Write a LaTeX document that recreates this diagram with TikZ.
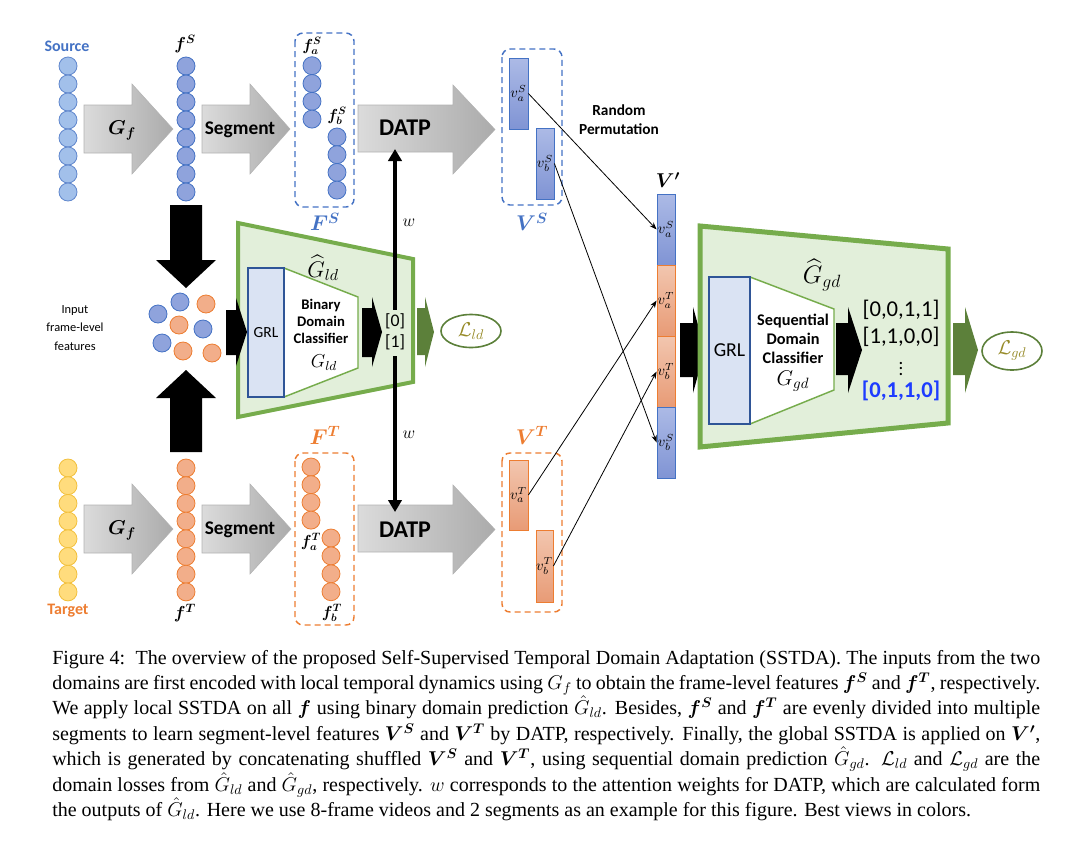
\RequirePackage{fix-cm}
\documentclass[tikz,border=0pt]{standalone}
\usepackage{amsmath,amssymb,bm}
\usepackage{fontspec}
\setmainfont{Carlito}
\newfontfamily\capfont{Liberation Serif}
\usetikzlibrary{arrows.meta,shapes.geometric}

\definecolor{srcblue}{RGB}{68,114,196}
\definecolor{srcfill}{RGB}{162,192,234}
\definecolor{fsfill}{RGB}{143,163,220}
\definecolor{tgtorange}{RGB}{237,125,49}
\definecolor{tgtfill}{RGB}{255,220,125}
\definecolor{tgtline}{RGB}{242,192,60}
\definecolor{ftfill}{RGB}{242,174,138}
\definecolor{lgreen}{RGB}{226,239,218}
\definecolor{mgreen}{RGB}{118,172,76}
\definecolor{dgreen}{RGB}{92,128,58}
\definecolor{grlfill}{RGB}{218,227,243}
\definecolor{grlline}{RGB}{47,85,151}
\definecolor{lossc}{RGB}{150,138,40}
\definecolor{seqblue}{RGB}{30,60,255}
\definecolor{barSa}{RGB}{172,186,230}
\definecolor{barSb}{RGB}{128,148,212}
\definecolor{barTa}{RGB}{242,198,175}
\definecolor{barTb}{RGB}{232,155,118}

\newcommand\blkarrow[8]{%
  \path[#1] (#2,#5) -- (#3,#5) -- (#3,#7) -- (#4,{(#7+#8)/2}) -- (#3,#8) -- (#3,#6) -- (#2,#6) -- cycle;}
\newcommand\capln[1]{\hbox to 741pt{#1}}

\tikzset{
  srccirc/.style={circle, draw=srcblue!85, fill=srcfill, minimum size=13.5pt, line width=0.6pt},
  fscirc/.style={circle, draw=srcblue, fill=fsfill, minimum size=13.5pt, line width=0.6pt},
  tgtcirc/.style={circle, draw=tgtline, fill=tgtfill, minimum size=13.5pt, line width=0.6pt},
  ftcirc/.style={circle, draw=tgtorange, fill=ftfill, minimum size=13.5pt, line width=0.6pt},
  dboxS/.style={draw=srcblue, dash pattern=on 4.5pt off 3pt, line width=1.1pt, rounded corners=6pt},
  dboxT/.style={draw=tgtorange, dash pattern=on 4.5pt off 3pt, line width=1.1pt, rounded corners=6pt},
  garrow/.style={left color=black!14, right color=black!33, draw=black!30, line width=0.4pt},
  blk/.style={fill=black},
  grn/.style={fill=dgreen},
  barS/.style={draw=srcblue, line width=0.6pt, top color=barSa, bottom color=barSb},
  barT/.style={draw=tgtorange, line width=0.6pt, top color=barTa, bottom color=barTb},
  thinarrow/.style={line width=0.6pt, -{Stealth[length=5.5pt,width=4pt]}},
  warrow/.style={line width=3pt, -{Triangle[length=9pt,width=10pt]}},
  trap/.style={draw=mgreen, fill=lgreen},
  clsf/.style={draw=mgreen, fill=white, line width=1.1pt},
  grl/.style={draw=grlline, fill=grlfill, line width=0.9pt},
  lossell/.style={ellipse, draw=dgreen, line width=1.2pt, text=lossc},
}

\begin{document}
\begin{tikzpicture}[x=0.75pt,y=-0.75pt, every node/.style={inner sep=0pt}]
\useasboundingbox (0,0) rectangle (1071,850);

% ---------------- Source row ----------------
\node[font=\fontsize{12}{14}\selectfont\bfseries, text=srcblue] (srcLbl) at (67,46) {Source};
\foreach \i in {0,...,7} \node[srccirc] (s\i) at (68,{66+18*\i}) {};
\node[font=\fontsize{13}{15}\selectfont] (fSlbl) at (185,44) {$\bm{f^S}$};
\foreach \i in {0,...,7} \node[fscirc] (fs\i) at (186,{66+18*\i}) {};

\blkarrow{garrow}{84}{132}{173}{105}{153}{84}{174}
\node[font=\fontsize{15}{18}\selectfont] (GfS) at (122,130) {$\bm{G_f}$};
\blkarrow{garrow}{202}{250}{290}{105}{153}{84}{174}
\node[font=\fontsize{14.5}{17}\selectfont\bfseries] (segS) at (240,130) {Segment};

\draw[dboxS] (295,33) rectangle (354,207);
\node[font=\fontsize{16}{18}\selectfont, text=srcblue] (FSlbl) at (325,222) {$\bm{F^S}$};
\node[font=\fontsize{12}{14}\selectfont] (faSlbl) at (312,46) {$\bm{f_a^S}$};
\foreach \i in {0,...,3} \node[fscirc] (faS\i) at (312,{65.7+17.8*\i}) {};
\node[font=\fontsize{12}{14}\selectfont] (fbSlbl) at (337,116) {$\bm{f_b^S}$};
\foreach \i in {0,...,3} \node[fscirc] (fbS\i) at (337,{137+17.7*\i}) {};

\blkarrow{garrow}{358}{453}{495}{105}{152}{85}{174}
\node[font=\fontsize{18}{20}\selectfont\bfseries] (datpS) at (405,128) {DATP};

\draw[dboxS] (502,49) rectangle (562,205);
\node[font=\fontsize{16}{18}\selectfont, text=srcblue] (VSlbl) at (532,222) {$\bm{V^S}$};
\node[barS, minimum width=14.25pt, minimum height=53.25pt, font=\fontsize{11}{13}\selectfont] (vaS) at (518.5,93.5) {$v_a^S$};
\node[barS, minimum width=13.5pt, minimum height=53.25pt, font=\fontsize{11}{13}\selectfont] (vbS) at (545,163.5) {$v_b^S$};

\node[font=\fontsize{11.5}{14.5}\selectfont\bfseries, align=center] (rp) at (619,120) {Random\\Permutation};

% ---------------- Target row ----------------
\node[font=\fontsize{12}{14}\selectfont\bfseries, text=tgtorange] (tgtLbl) at (68,611) {Target};
\foreach \i in {0,...,7} \node[tgtcirc] (t\i) at (68,{468+17.7*\i}) {};
\node[font=\fontsize{13}{15}\selectfont] (fTlbl) at (185,613) {$\bm{f^T}$};
\foreach \i in {0,...,7} \node[ftcirc] (ft\i) at (186,{468+17.7*\i}) {};

\blkarrow{garrow}{84}{132}{173}{505}{553}{484}{574}
\node[font=\fontsize{15}{18}\selectfont] (GfT) at (122,530) {$\bm{G_f}$};
\blkarrow{garrow}{202}{250}{291}{505}{553}{484}{574}
\node[font=\fontsize{14.5}{17}\selectfont\bfseries] (segT) at (240,530) {Segment};

\draw[dboxT] (295,453) rectangle (354,625);
\node[font=\fontsize{16}{18}\selectfont, text=tgtorange] (FTlbl) at (325,435) {$\bm{F^T}$};
\foreach \i in {0,...,3} \node[ftcirc] (faT\i) at (311,{467+17.7*\i}) {};
\node[font=\fontsize{12}{14}\selectfont] (faTlbl) at (311,542) {$\bm{f_a^T}$};
\foreach \i in {0,...,3} \node[ftcirc] (fbT\i) at (331,{538+17.9*\i}) {};
\node[font=\fontsize{12}{14}\selectfont] (fbTlbl) at (332,613) {$\bm{f_b^T}$};

\blkarrow{garrow}{358}{453}{495}{505}{552}{485}{574}
\node[font=\fontsize{18}{20}\selectfont\bfseries] (datpT) at (405,530) {DATP};

\draw[dboxT] (502,453) rectangle (562,612);
\node[font=\fontsize{16}{18}\selectfont, text=tgtorange] (VTlbl) at (532,435) {$\bm{V^T}$};
\node[barT, minimum width=14.25pt, minimum height=52.5pt, font=\fontsize{11}{13}\selectfont] (vaT) at (518.5,495) {$v_a^T$};
\node[barT, minimum width=12.75pt, minimum height=54pt, font=\fontsize{11}{13}\selectfont] (vbT) at (544.5,566) {$v_b^T$};

% ---------------- middle: input features ----------------
\path[blk] (170,205) -- (202,205) -- (202,260) -- (216,260) -- (186,288) -- (156,260) -- (170,260) -- cycle;
\path[blk] (170,452) -- (202,452) -- (202,398) -- (216,398) -- (186,370) -- (156,398) -- (170,398) -- cycle;

\node[font=\fontsize{9.3}{14}\selectfont, align=center] (inp) at (75,328) {Input\\frame-level\\features};
\node[fscirc] (m1) at (180,302) {};
\node[fscirc] (m2) at (158,314) {};
\node[fscirc] (m3) at (203,329) {};
\node[fscirc] (m4) at (162,343) {};
\node[ftcirc] (m5) at (206,304) {};
\node[ftcirc] (m6) at (179,325) {};
\node[ftcirc] (m7) at (183,351) {};
\node[ftcirc] (m8) at (212,353) {};

% ---------------- local domain classifier ----------------
\draw[trap, line width=3pt] (238,223) -- (413,259) -- (413,382) -- (238,417) -- cycle;
\node[font=\fontsize{17}{20}\selectfont] (Gldhat) at (323,268) {$\widehat{G}_{ld}$};
\draw[clsf] (284,268) -- (358,297) -- (358,368) -- (284,397) -- cycle;
\node[grl, minimum width=27pt, minimum height=96.75pt, font=\fontsize{11.6}{14}\selectfont] (grlL) at (266,332.5) {GRL};
\node[font=\fontsize{11}{12.75}\selectfont\bfseries, align=center] (bdc) at (321,321) {Binary\\Domain\\Classifier};
\node[font=\fontsize{14}{16}\selectfont] (Gld) at (324,363) {$G_{ld}$};
\blkarrow{blk}{226}{236}{247}{310}{355}{298}{366}
\blkarrow{blk}{362}{372}{382}{308}{357}{297}{367}
\node[font=\fontsize{13.3}{15.75}\selectfont, align=center] (out01) at (395,332) {{[0]}\\{}{[1]}};
\blkarrow{grn}{417}{425}{434}{308}{355}{297}{367}
\node[lossell, minimum width=45pt, minimum height=24.75pt, font=\fontsize{15}{17}\selectfont] (Lld) at (471,331) {$\mathcal{L}_{ld}$};

% attention weights w
\coordinate (wtop) at (395,149);
\coordinate (wbot) at (395,512);
\draw[warrow] (out01.north) ++(0,-4) -- (wtop);
\draw[warrow] (out01.south) ++(0,6) -- (wbot);
\node[font=\fontsize{13}{15}\selectfont] (w1) at (409,223) {$w$};
\node[font=\fontsize{13}{15}\selectfont] (w2) at (409,435) {$w$};

% ---------------- V' ----------------
\node[font=\fontsize{15}{17}\selectfont] (Vplbl) at (668,180) {$\bm{V'}$};
\node[barS, minimum width=13.5pt, minimum height=53.25pt, font=\fontsize{11}{13}\selectfont] (Vpa) at (666,229.5) {$v_a^S$};
\node[barT, minimum width=13.5pt, minimum height=53.25pt, font=\fontsize{11}{13}\selectfont] (Vpb) at (666,300.5) {$v_a^T$};
\node[barT, minimum width=13.5pt, minimum height=53.25pt, font=\fontsize{11}{13}\selectfont] (Vpc) at (666,371.5) {$v_b^T$};
\node[barS, minimum width=13.5pt, minimum height=53.25pt, font=\fontsize{11}{13}\selectfont] (Vpd) at (666,442.5) {$v_b^S$};

\draw[thinarrow] (vaS.east) -- (Vpa.west);
\draw[thinarrow] (vbS.east) -- (Vpd.west);
\draw[thinarrow] (vaT.east) -- (Vpb.west);
\draw[thinarrow] (vbT.east) -- (Vpc.west);

% ---------------- global domain classifier ----------------
\blkarrow{blk}{680}{693}{705}{323}{377}{307}{393}
\draw[trap, line width=3.75pt] (700,226) -- (948,249) -- (948,423) -- (700,447) -- cycle;
\node[font=\fontsize{19}{22}\selectfont] (Ggdhat) at (822,275) {$\widehat{G}_{gd}$};
\draw[clsf] (750,277) -- (834,309) -- (834,390) -- (750,424) -- cycle;
\node[grl, minimum width=30.75pt, minimum height=110.25pt, font=\fontsize{14.8}{17}\selectfont] (grlG) at (729.5,350.5) {GRL};
\node[font=\fontsize{12.2}{14.5}\selectfont\bfseries, align=center] (sdc) at (793,339) {Sequential\\Domain\\Classifier};
\node[font=\fontsize{16}{18}\selectfont] (Ggd) at (793,381) {$G_{gd}$};
\blkarrow{blk}{836}{848}{862}{323}{375}{307}{393}
\node[font=\fontsize{17}{20}\selectfont] (o1) at (901,310) {[0,0,1,1]};
\node[font=\fontsize{17}{20}\selectfont] (o2) at (901,337) {[1,1,0,0]};
\node[font=\fontsize{14}{16}\selectfont] (o3) at (901,365) {$\vdots$};
\node[font=\fontsize{17}{20}\selectfont\bfseries, text=seqblue] (o4) at (901,391) {[0,1,1,0]};
\blkarrow{grn}{953}{965}{978}{323}{375}{307}{393}
\node[lossell, minimum width=45pt, minimum height=28.5pt, font=\fontsize{15}{17}\selectfont] (Lgd) at (1012,351) {$\mathcal{L}_{gd}$};

% ---------------- caption ----------------
\node[anchor=base west] (cap) at (52,664) {\begin{minipage}[t]{741pt}\capfont\fontsize{15}{19.1}\selectfont
\capln{Figure 4:\ \ The overview of the proposed Self-Supervised Temporal Domain Adaptation (SSTDA). The inputs from the two}
\capln{domains are first encoded with local temporal dynamics using $G_f$ to obtain the frame-level features $\bm{f^S}$ and $\bm{f^T}$, respectively.}
\capln{We apply local SSTDA on all $\bm{f}$ using binary domain prediction $\hat{G}_{ld}$. Besides, $\bm{f^S}$ and $\bm{f^T}$ are evenly divided into multiple}
\capln{segments to learn segment-level features $\bm{V^S}$ and $\bm{V^T}$ by DATP, respectively. Finally, the global SSTDA is applied on $\bm{V'}$,}
\capln{which is generated by concatenating shuffled $\bm{V^S}$ and $\bm{V^T}$, using sequential domain prediction $\hat{G}_{gd}$. $\mathcal{L}_{ld}$ and $\mathcal{L}_{gd}$ are the}
\capln{domain losses from $\hat{G}_{ld}$ and $\hat{G}_{gd}$, respectively. $w$ corresponds to the attention weights for DATP, which are calculated form}
\hbox{the outputs of $\hat{G}_{ld}$. Here we use 8-frame videos and 2 segments as an example for this figure. Best views in colors.}
\end{minipage}};
\end{tikzpicture}
\end{document}
